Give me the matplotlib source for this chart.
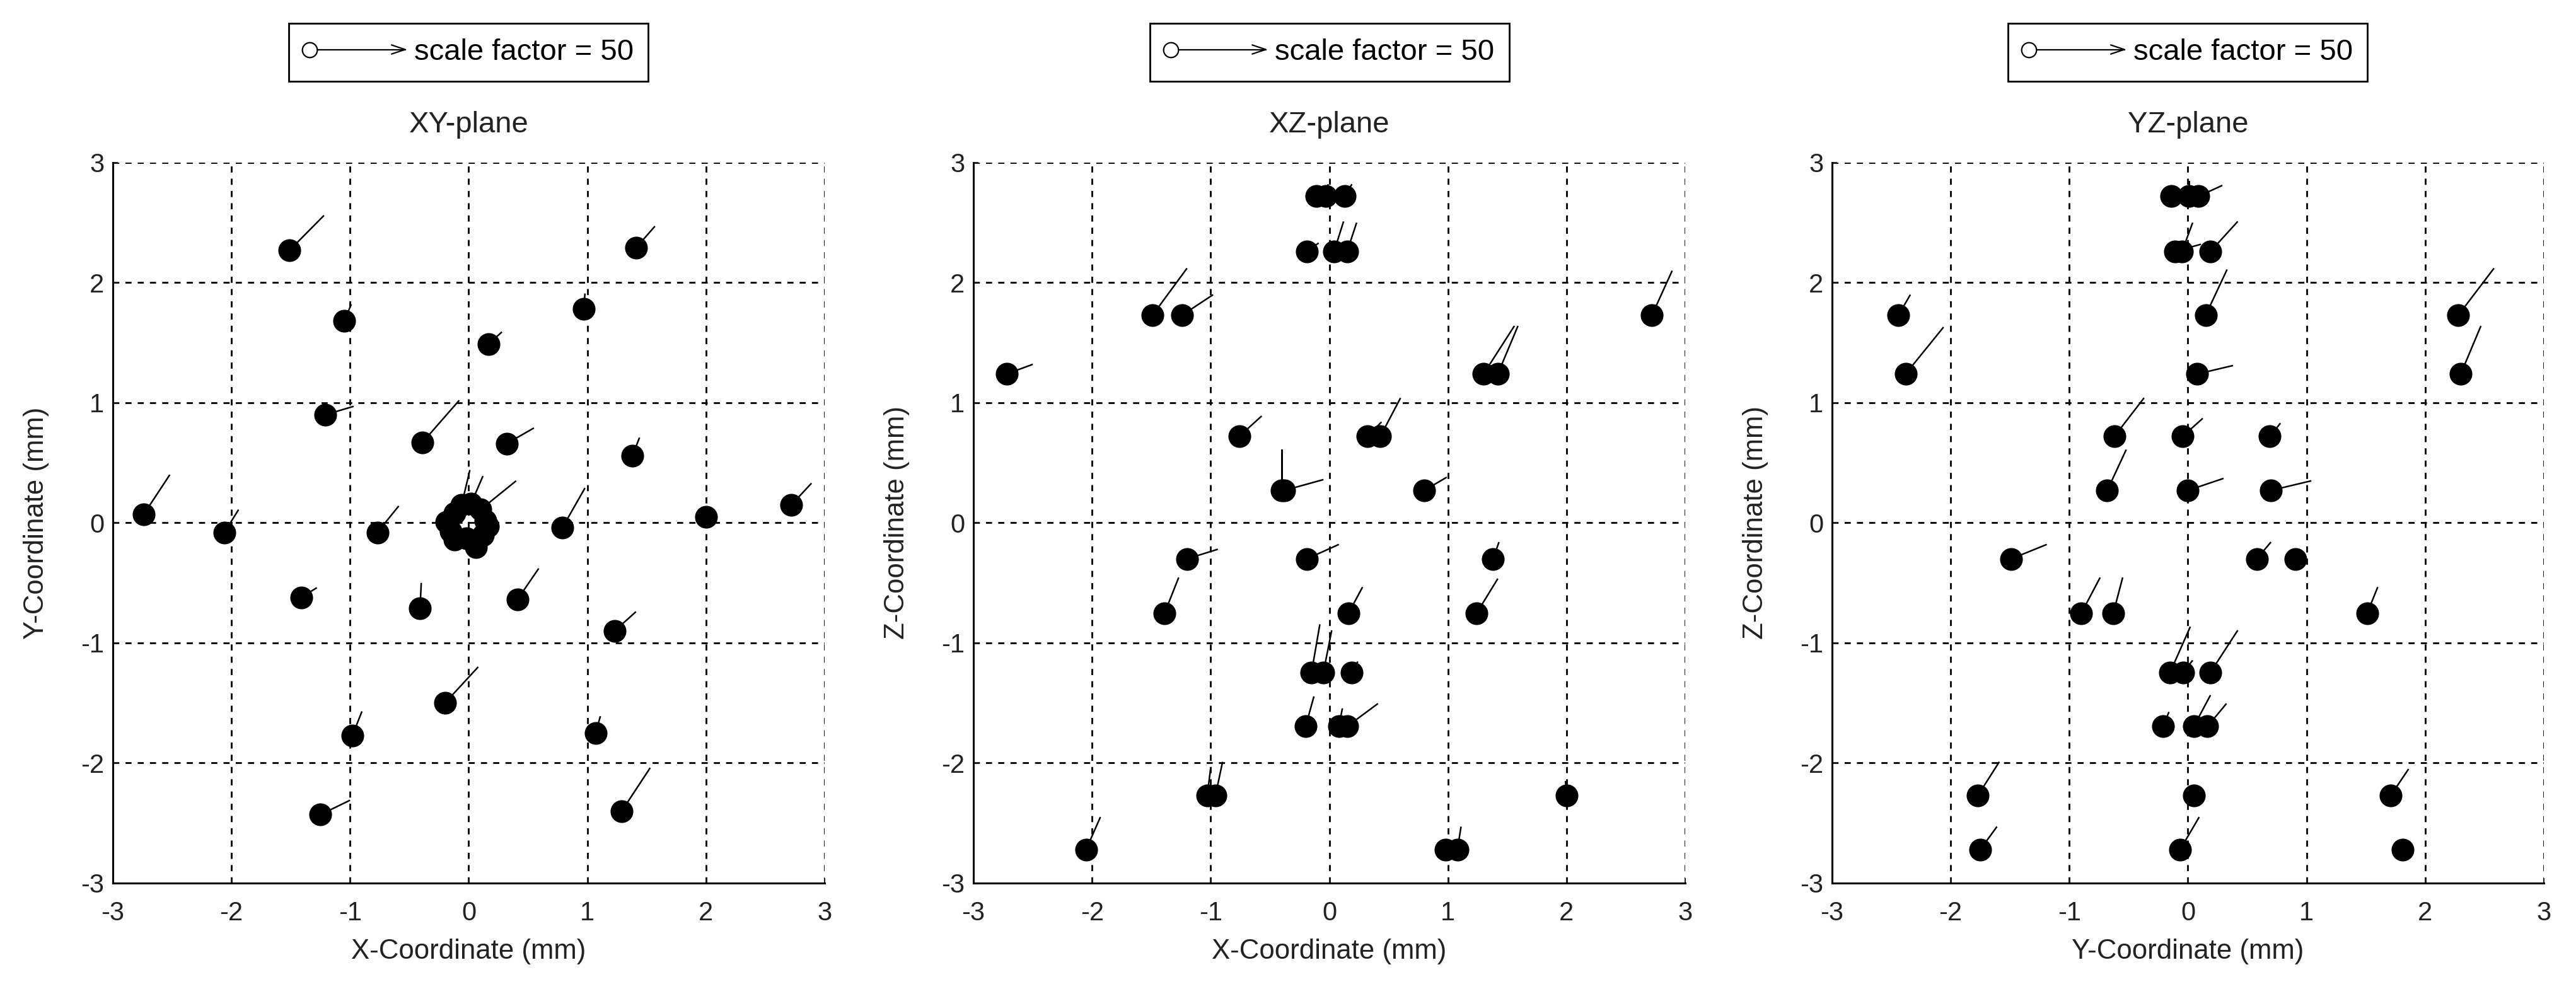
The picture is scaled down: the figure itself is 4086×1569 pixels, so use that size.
import numpy as np
import matplotlib
matplotlib.use("Agg")
import matplotlib.pyplot as plt
from matplotlib.lines import Line2D
from matplotlib.legend_handler import HandlerBase

# --- data (coordinates in mm, vectors already x50) ---

# XY-plane
xy_x = [-1.51, 1.41, -1.05, 0.97, 0.17, -1.21, -0.39, 0.32, 1.38, -2.74, -2.06, -0.77,
        0.79, 2.00, 2.72, -1.41, -0.41, 0.41, 1.23, -0.20, -0.98, 1.07, -1.25, 1.29,
        0.14, 0.10, 0.02, -0.06, -0.12, -0.19, -0.15, -0.12, -0.02, 0.06, 0.12, 0.16]
xy_y = [2.27, 2.29, 1.68, 1.78, 1.49, 0.90, 0.67, 0.66, 0.56, 0.07, -0.08, -0.08,
        -0.04, 0.05, 0.15, -0.62, -0.71, -0.64, -0.90, -1.50, -1.77, -1.75, -2.43, -2.40,
        0.02, 0.11, 0.16, 0.15, 0.08, 0.01, -0.07, -0.14, -0.13, -0.20, -0.10, -0.03]
xy_u = [0.29, 0.16, 0.06, 0.01, 0.11, 0.24, 0.31, 0.23, 0.06, 0.22, 0.12, 0.18,
        0.19, 0.00, 0.17, 0.13, 0.01, 0.18, 0.18, 0.28, 0.08, 0.04, 0.25, 0.24,
        0.02, 0.30, 0.10, 0.07, 0.02, 0.02, 0.02, 0.02, 0.02, 0.02, 0.02, 0.02]
xy_v = [0.29, 0.18, 0.14, 0.13, 0.10, 0.07, 0.35, 0.13, 0.15, 0.33, 0.19, 0.22,
        0.33, 0.00, 0.18, 0.08, 0.21, 0.26, 0.16, 0.30, 0.20, 0.14, 0.12, 0.36,
        0.03, 0.24, 0.23, 0.29, 0.03, 0.03, 0.02, 0.02, 0.03, 0.02, 0.02, 0.03]

# XZ-plane
xz_x = [-0.11, -0.03, 0.13, -0.19, 0.04, 0.15, -1.49, -1.24, 2.72, -2.72, 1.30, 1.42,
        -0.76, 0.32, 0.43, -0.40, -0.38, 0.80, -1.20, -0.19, 1.38, -1.39, 0.16, 1.24,
        -0.15, -0.05, 0.19, -0.20, 0.08, 0.15, -1.03, -0.96, 2.00, -2.05, 0.98, 1.08]
xz_z = [2.72, 2.72, 2.72, 2.26, 2.26, 2.26, 1.73, 1.73, 1.73, 1.24, 1.24, 1.24,
        0.72, 0.72, 0.72, 0.27, 0.27, 0.27, -0.30, -0.30, -0.30, -0.755, -0.755, -0.755,
        -1.245, -1.245, -1.245, -1.695, -1.695, -1.695, -2.27, -2.27, -2.27, -2.72, -2.72, -2.72]
xz_u = [0.00, 0.02, 0.06, 0.10, 0.08, 0.08, 0.29, 0.26, 0.17, 0.22, 0.26, 0.17,
        0.19, 0.12, 0.17, 0.00, 0.33, 0.19, 0.26, 0.27, 0.05, 0.12, 0.12, 0.18,
        0.07, 0.07, 0.05, 0.07, 0.03, 0.26, 0.03, 0.06, -0.01, 0.12, 0.00, 0.03]
xz_v = [0.00, 0.10, 0.10, 0.07, 0.25, 0.24, 0.39, 0.17, 0.37, 0.08, 0.40, 0.40,
        0.17, 0.12, 0.32, 0.34, 0.09, 0.11, 0.08, 0.12, 0.14, 0.30, 0.22, 0.29,
        0.40, 0.35, 0.09, 0.25, 0.15, 0.19, 0.23, 0.28, 0.12, 0.27, 0.00, 0.19]

# YZ-plane
yz_y = [-0.14, 0.01, 0.09, -0.11, -0.05, 0.19, -2.44, 0.15, 2.28, -2.38, 0.08, 2.30,
        -0.62, -0.045, 0.69, -0.68, 0.00, 0.70, -1.49, 0.58, 0.905, -0.90, -0.63, 1.51,
        -0.15, -0.04, 0.19, -0.21, 0.05, 0.165, -1.77, 0.05, 1.71, -1.75, -0.065, 1.81]
yz_z = [2.72, 2.72, 2.72, 2.26, 2.26, 2.26, 1.73, 1.73, 1.73, 1.24, 1.24, 1.24,
        0.72, 0.72, 0.72, 0.27, 0.27, 0.27, -0.30, -0.30, -0.30, -0.755, -0.755, -0.755,
        -1.245, -1.245, -1.245, -1.695, -1.695, -1.695, -2.27, -2.27, -2.27, -2.72, -2.72, -2.72]
yz_u = [0.00, 0.00, 0.20, 0.22, 0.09, 0.23, 0.10, 0.18, 0.30, 0.32, 0.30, 0.17,
        0.25, 0.17, 0.09, 0.16, 0.30, 0.34, 0.30, 0.12, 0.07, 0.16, 0.08, 0.09,
        0.17, 0.08, 0.23, 0.05, 0.14, 0.16, 0.18, 0.00, 0.15, 0.14, 0.16, 0.00]
yz_v = [0.00, 0.13, 0.09, 0.06, 0.24, 0.25, 0.17, 0.38, 0.39, 0.39, 0.07, 0.40,
        0.32, 0.15, 0.11, 0.34, 0.10, 0.08, 0.12, 0.14, 0.06, 0.30, 0.30, 0.22,
        0.38, 0.10, 0.35, 0.12, 0.26, 0.19, 0.28, 0.00, 0.22, 0.19, 0.27, 0.00]

scale_factor = 50
ticks = [-3, -2, -1, 0, 1, 2, 3]
txt = '#222222'


class ScaleArrowHandler(HandlerBase):
    # open circle -> line -> open arrow head, like the MATLAB legend key
    def create_artists(self, legend, orig_handle, xdescent, ydescent,
                       width, height, fontsize, trans):
        y = height / 2 - ydescent
        x0 = -xdescent + 0.2 * fontsize
        x1 = -xdescent + width
        hl = 0.45 * fontsize
        hw = 0.15 * fontsize
        shaft = Line2D([x0, x1], [y, y], color='k', lw=1.6, transform=trans)
        head = Line2D([x1 - hl, x1, x1 - hl], [y + hw, y, y - hw], color='k',
                      lw=1.6, transform=trans)
        dot = Line2D([x0], [y], marker='o', ms=0.5 * fontsize, mfc='white',
                     mec='k', mew=1.6, transform=trans)
        return [shaft, head, dot]


plt.rcParams['font.family'] = ['Liberation Sans', 'DejaVu Sans']
plt.rcParams['font.size'] = 30
plt.rcParams['axes.unicode_minus'] = False

fig = plt.figure(figsize=(40.86, 15.69), dpi=100)

panels = [
    (xy_x, xy_y, xy_u, xy_v, 'XY-plane', 'X-Coordinate (mm)', 'Y-Coordinate (mm)', 0.0438),
    (xz_x, xz_z, xz_u, xz_v, 'XZ-plane', 'X-Coordinate (mm)', 'Z-Coordinate (mm)', 0.3779),
    (yz_y, yz_z, yz_u, yz_v, 'YZ-plane', 'Y-Coordinate (mm)', 'Z-Coordinate (mm)', 0.7112),
]

for px, py, pu, pv, title, xlab, ylab, left in panels:
    ax = fig.add_axes([left, 0.1071, 0.2763, 0.7285])
    ax.plot(px, py, 'o', color='k', ms=25, zorder=3)
    ax.quiver(px, py, pu, pv, angles='xy', scale_units='xy', scale=1,
              units='dots', width=2.5, headwidth=0, headlength=0,
              headaxislength=0, color='k', zorder=4)

    ax.set_xlim(-3, 3)
    ax.set_ylim(-3, 3)
    ax.set_xticks(ticks)
    ax.set_yticks(ticks)
    ax.grid(True, color='k', linestyle=(0, (3.5, 3.5)), linewidth=2.0)
    ax.set_axisbelow(True)
    for s in ['top', 'right']:
        ax.spines[s].set_visible(False)
    for s in ['left', 'bottom']:
        ax.spines[s].set_linewidth(2.2)
    ax.tick_params(direction='in', length=6, width=1.5, colors=txt)
    ax.tick_params(axis='x', pad=20)
    ax.tick_params(axis='y', pad=10)

    ax.set_title(title, y=1.035, va='baseline', color=txt, fontsize=34)
    ax.set_xlabel(xlab, color=txt, fontsize=31.5)
    ax.set_ylabel(ylab, color=txt, fontsize=31.5)
    ax.xaxis.set_label_coords(0.5, -0.095)
    ax.xaxis.label.set_va('center')
    ax.yaxis.set_label_coords(-0.108, 0.5)
    ax.yaxis.label.set_va('center')

    proxy = Line2D([], [])
    leg = ax.legend([proxy], ['scale factor = %d' % scale_factor],
                    handler_map={proxy: ScaleArrowHandler()},
                    loc='center', bbox_to_anchor=(0.5, 1.153),
                    handlelength=3.4, handletextpad=0.3, borderpad=0.5,
                    fancybox=False, framealpha=1, edgecolor='k', fontsize=34)
    leg.get_frame().set_linewidth(2.0)

fig.savefig('out.png', dpi=100)
